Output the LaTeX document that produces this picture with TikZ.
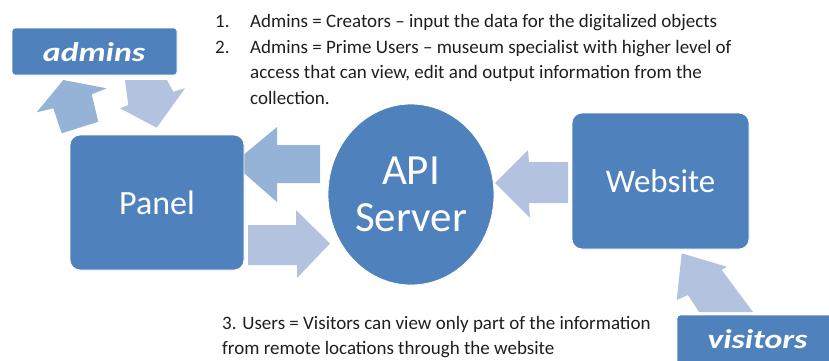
\documentclass[tikz,border=0pt]{standalone}
\usepackage{fontspec}
\setmainfont{Carlito}
\usetikzlibrary{shapes.geometric}
\definecolor{boxblue}{HTML}{4F81BD}
\definecolor{arrowdark}{HTML}{95B3D7}
\definecolor{arrowlight}{HTML}{B3C3DF}
\definecolor{txt}{HTML}{1E1E1E}
\tikzset{
  bluebox/.style={fill=boxblue, draw=white, line width=0.8pt, rounded corners=10pt, inner sep=0pt, text=white},
  tagbox/.style={fill=boxblue, draw=white, line width=0.8pt, rounded corners=3pt, inner sep=0pt},
  tagtext/.style={text=white, inner sep=0pt, anchor=base, font=\fontsize{27}{27}\selectfont\bfseries\itshape, xscale=1.25},
  bodytext/.style={text=txt, inner sep=0pt, anchor=base west, font=\fontsize{19}{19}\selectfont},
  darkarrow/.style={fill=arrowdark},
  lightarrow/.style={fill=arrowlight}
}
\begin{document}
\begin{tikzpicture}[x=1pt,y=-1pt]
\useasboundingbox (0,0) rectangle (829,360);

% block arrows
\fill[darkarrow] (61.7,133.3) -- (53.3,108.3) -- (36.7,112.3) -- (63.3,80) -- (106.7,88.3) -- (91.7,94.3) -- (98.3,121.7) -- cycle;
\fill[lightarrow] (125,80) -- (128.3,105) -- (120,108.3) -- (156.7,127.7) -- (185,88.3) -- (173.3,91.7) -- (167,80) -- cycle;
\fill[darkarrow] (320,145) -- (277,145) -- (277,127) -- (233,163.5) -- (277,202) -- (277,183) -- (320,183) -- cycle;
\fill[lightarrow] (248,225) -- (296,225) -- (296,210) -- (330,243.5) -- (297,278) -- (297,265) -- (248,265) -- cycle;
\fill[lightarrow] (568,162) -- (529,162) -- (528,150) -- (495,183) -- (530,218) -- (529,203) -- (568,203) -- cycle;
\fill[lightarrow] (699,312) -- (688,295) -- (676.7,300) -- (681.7,253.3) -- (726.7,266.7) -- (721.7,270) -- (753,312) -- cycle;

% boxes
\node[tagbox, minimum width=165pt, minimum height=47pt] (admins) at (94.5,51.5) {};
\node[tagtext] (adminstext) at (94,61) {admins};

\node[bluebox, minimum width=174pt, minimum height=135pt, font=\fontsize{34}{34}\selectfont] (panel) at (157,202.5) {Panel};
\node[bluebox, minimum width=177pt, minimum height=136pt, font=\fontsize{33}{33}\selectfont] (website) at (660.5,181) {Website};
\node[ellipse, fill=boxblue, draw=white, line width=0.8pt, minimum width=166pt, minimum height=181pt, inner sep=0pt, text=white, align=center, font=\fontsize{43}{47}\selectfont] (api) at (411,194.5) {API\\Server};

\node[tagbox, minimum width=170pt, minimum height=60pt] (visitors) at (762,345) {};
\node[tagtext] (visitorstext) at (757.5,348) {visitors};

% texts
\node[bodytext] (n1) at (215,27) {1.};
\node[bodytext] (t1) at (250,27) {Admins = Creators -- input the data for the digitalized objects};
\node[bodytext] (n2) at (215,53) {2.};
\node[bodytext] (t2a) at (250,53) {Admins = Prime Users -- museum specialist with higher level of};
\node[bodytext] (t2b) at (250,78.5) {access that can view, edit and output information from the};
\node[bodytext] (t2c) at (250,104) {collection.};
\node[bodytext] (t3a) at (222,329) {3. Users = Visitors can view only part of the information};
\node[bodytext] (t3b) at (222,354) {from remote locations through the website};
\end{tikzpicture}
\end{document}
